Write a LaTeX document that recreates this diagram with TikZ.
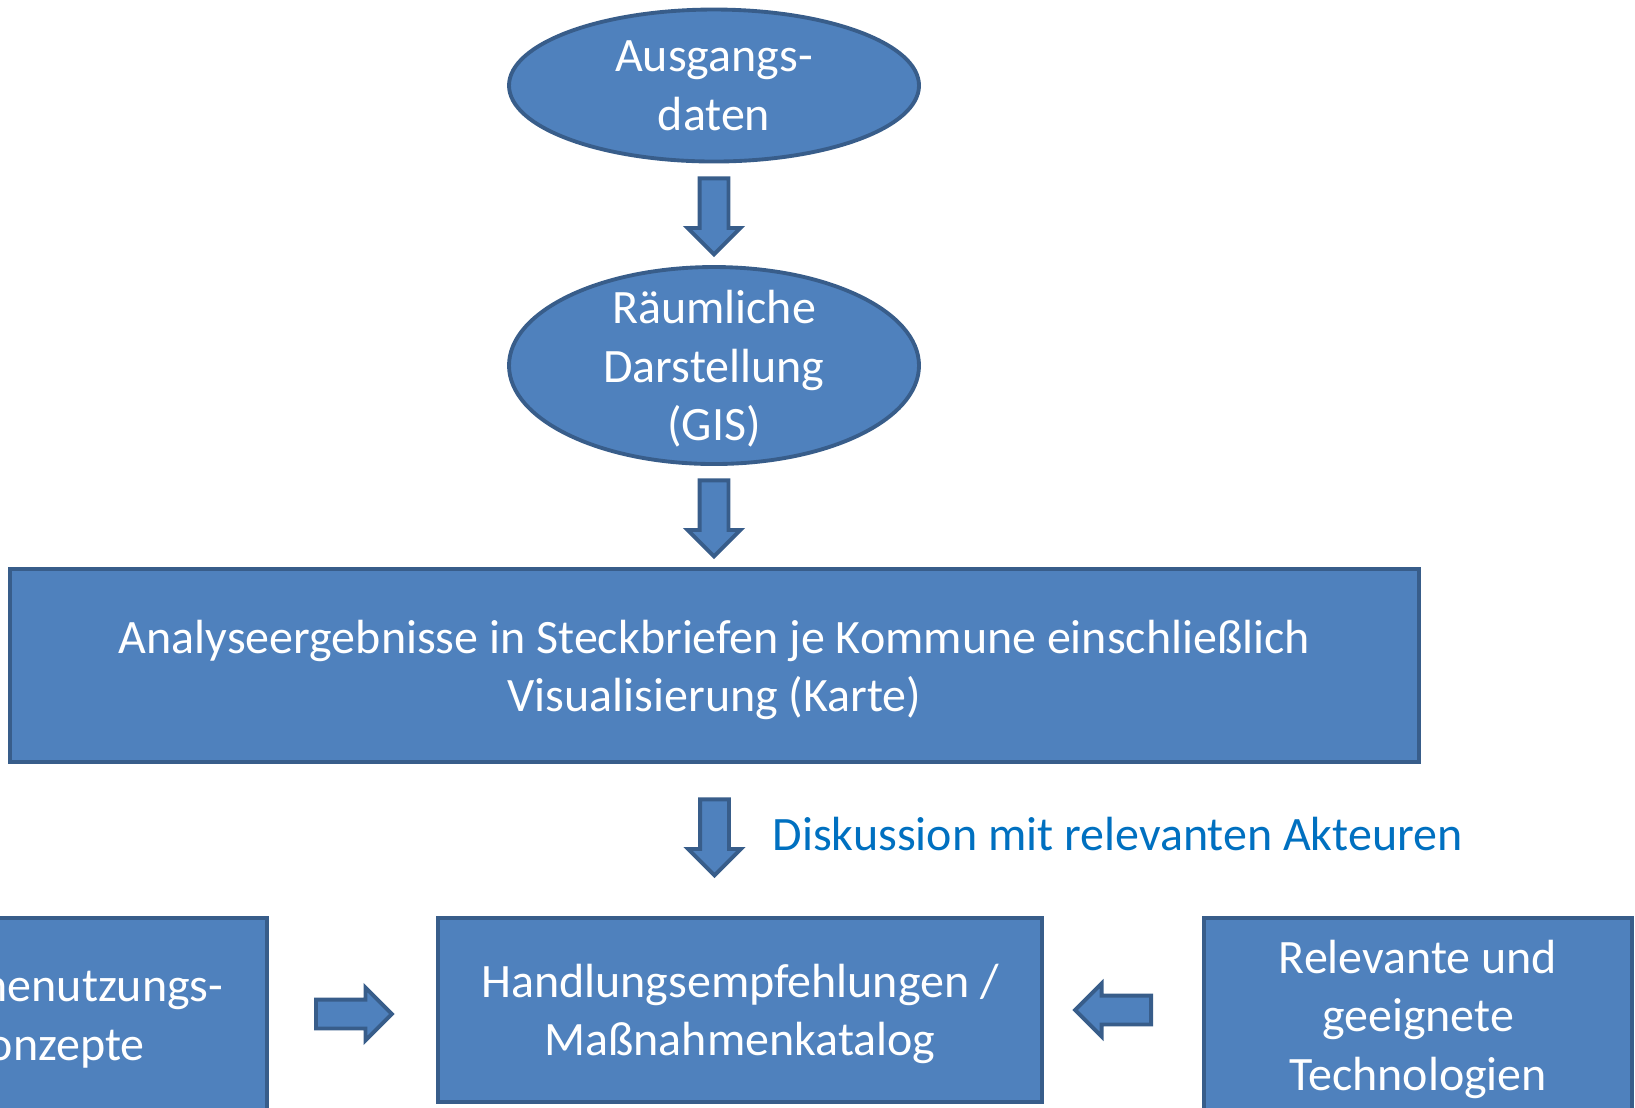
\documentclass[tikz,border=0pt]{standalone}
\usepackage{fontspec}
\setmainfont{Carlito}
\usepackage{tikz}
\usetikzlibrary{shapes.geometric,shapes.arrows,calc,positioning}
\definecolor{stepfill}{HTML}{4F81BD}
\definecolor{stepline}{HTML}{385D8A}
\definecolor{talkblue}{HTML}{0070C0}
\tikzset{
  ellstep/.style={ draw=stepline, fill=stepfill, ellipse, line width=1.1pt, text=white, align=center, text depth=0pt, minimum width=4.1cm, inner xsep=0pt, inner ysep=-0.2cm }
}
\tikzset{
  boxstep/.style={ draw=stepline, fill=stepfill, rectangle, line width=1.1pt, text=white, align=center, text depth=0pt, inner sep=0pt }
}
\tikzset{
  blockarr/.style={ draw=stepline, fill=stepfill, single arrow, line width=1.1pt, minimum height=0.76cm, single arrow head extend=0.12cm, inner xsep=0pt, inner ysep=0.125cm, anchor=tail }
}

\begin{document}
\begin{tikzpicture}[font=\fontsize{13.65}{16.6}\selectfont]
      \clip (0,0) rectangle (16.35,-11.07);
      \node[ellstep, minimum height=1.52cm] (aus) at (7.14,-0.855) {Ausgangs-\\daten};
      \node[ellstep, minimum height=1.97cm] (gis) at (7.14,-3.655) {Räumliche\\Darstellung\\(GIS)};
      \node[boxstep, minimum width=14.09cm, minimum height=1.93cm] (ana) at (7.145,-6.655) {Analyseergebnisse in Steckbriefen je Kommune einschließlich\\Visualisierung (Karte)};
      \node[boxstep, minimum width=6.04cm, minimum height=1.84cm] (hand) at (7.40,-10.10) {Handlungsempfehlungen /\\Maßnahmenkatalog};
      \node[boxstep, minimum width=4.22cm, minimum height=1.94cm, anchor=east] (konz) at (2.69,-10.15) {Wärmenutzungs-\\konzepte};
      \node[boxstep, minimum width=4.28cm, minimum height=1.94cm] (tech) at (14.18,-10.15) {Relevante und\\geeignete\\Technologien};

      \node[blockarr, rotate=-90] (a1) at ($(aus.south)+(0,-0.13)$) {};
      \node[blockarr, rotate=-90] (a2) at ($(gis.south)+(0,-0.125)$) {};
      \node[blockarr, rotate=-90] (a3) at ($(ana.south)+(0,-0.335)$) {};
      \node[blockarr] (a4) at ($(konz.east)+(0.45,0.01)$) {};
      \node[blockarr, rotate=180] (a5) at ($(tech.west)+(-0.49,0.05)$) {};

      \node[text=talkblue, anchor=west, inner sep=0pt] (talk) at (7.72,-8.34) {Diskussion mit relevanten Akteuren};
    \end{tikzpicture}
\end{document}
